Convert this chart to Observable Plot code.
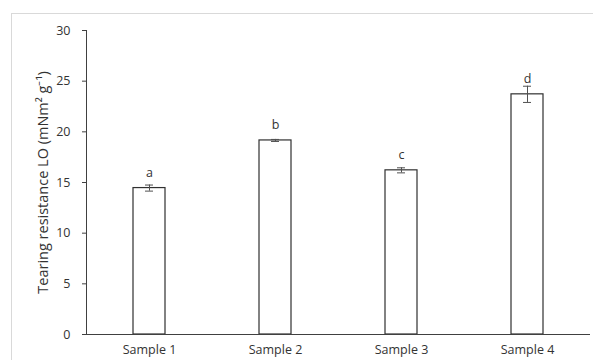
<!DOCTYPE html>
<html>
<head>
<meta charset="utf-8">
<script src="https://cdn.jsdelivr.net/npm/d3@7"></script>
<script src="https://cdn.jsdelivr.net/npm/@observablehq/plot@0.6"></script>
<style>
  html, body { margin: 0; padding: 0; background: #fff; }
  #wrap { position: relative; width: 593px; height: 360px; overflow: hidden; }
  #border { position: absolute; left: 11px; top: 13px; width: 600px; height: 400px;
            border-left: 1px solid #d9d9d9; border-top: 1px solid #d9d9d9; }
  #chart { position: absolute; left: 0; top: 0; }
</style>
</head>
<body>
<div id="wrap"><div id="border"></div><div id="chart"></div></div>
<script>
const categories = ["Sample 1", "Sample 2", "Sample 3", "Sample 4"];
const values = [14.45, 19.15, 16.2, 23.7];
const errors = [0.3, 0.1, 0.25, 0.8];
const letters = ["a", "b", "c", "d"];
const yTicks = [0, 5, 10, 15, 20, 25, 30];
const yLabel = "Tearing resistance LO (mNm² g⁻¹)";

const data = categories.map((c, i) => ({cat: c, v: values[i], e: errors[i], lab: letters[i]}));
const font = "'Open Sans', sans-serif";
const ink = "#333333";
const line = "#404040";

const chart = Plot.plot({
  width: 593,
  height: 360,
  marginLeft: 86,
  marginRight: 3,
  marginTop: 30,
  marginBottom: 26,
  style: {fontFamily: font, fontSize: "12px", color: ink, background: "transparent", overflow: "visible"},
  x: {domain: categories, padding: 0, label: null},
  y: {domain: [0, 30], ticks: yTicks, label: null},
  marks: [
    Plot.barY(data, {x: "cat", y: "v", fill: "white", stroke: "#303030", strokeWidth: 1.2, insetLeft: 47, insetRight: 47}),
    Plot.ruleX(data, {x: "cat", y1: d => d.v - d.e, y2: d => d.v + d.e, stroke: "#505050", strokeWidth: 1}),
    Plot.tickY(data, {x: "cat", y: d => d.v - d.e, stroke: "#505050", insetLeft: 59, insetRight: 59}),
    Plot.tickY(data, {x: "cat", y: d => d.v + d.e, stroke: "#505050", insetLeft: 59, insetRight: 59}),
    Plot.text(data, {x: "cat", y: "v", text: "lab", lineAnchor: "bottom", dy: -11, fill: ink, fontSize: 12.5}),
    Plot.axisY({ticks: yTicks, tickSize: 4, tickPadding: 12, label: null, stroke: line, fill: ink, fontSize: 12.5}),
    Plot.frame({anchor: "left", stroke: line}),
    Plot.ruleY([0], {stroke: line}),
    Plot.axisX({tickSize: 0, tickPadding: 11, label: null, fill: ink, fontSize: 12.5}),
    Plot.text([yLabel], {frameAnchor: "left", dx: -43, rotate: -90, fill: ink, fontSize: 14.5, textAnchor: "middle"})
  ]
});
document.getElementById("chart").appendChild(chart);
</script>
</body>
</html>
